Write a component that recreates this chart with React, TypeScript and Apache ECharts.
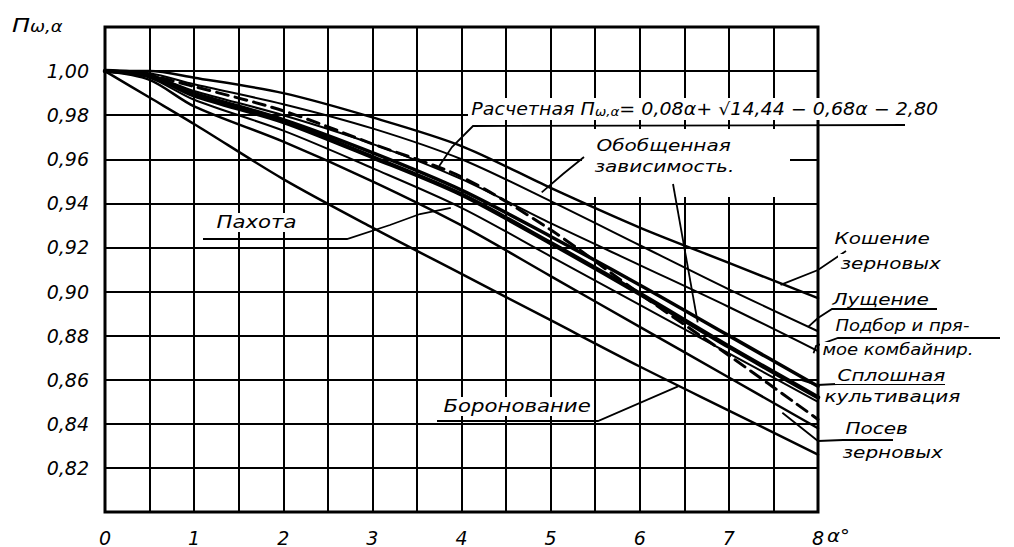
import React, { useEffect, useRef } from 'react';
import * as echarts from 'echarts';

// Angle of slope, degrees
const alpha = [0, 0.5, 1, 2, 3, 4, 5, 6, 7, 8];
// Coefficient П(ω,α)
const koshenie = [1.0, 1.0, 0.997, 0.99, 0.979, 0.966, 0.947, 0.929, 0.913, 0.897];
const lushchenie = [1.0, 0.999, 0.994, 0.985, 0.974, 0.96, 0.941, 0.921, 0.901, 0.882];
const raschetnaya = [1.0, 0.998, 0.993, 0.982, 0.967, 0.952, 0.928, 0.899, 0.871, 0.842];
const podbor = [1.0, 0.998, 0.991, 0.98, 0.967, 0.951, 0.931, 0.912, 0.893, 0.873];
const sploshnaya = [1.0, 0.998, 0.99, 0.978, 0.963, 0.946, 0.925, 0.903, 0.88, 0.857];
const obobshchennaya = [1.0, 0.998, 0.989, 0.977, 0.961, 0.944, 0.922, 0.899, 0.875, 0.852];
const pakhota = [1.0, 0.997, 0.987, 0.973, 0.956, 0.938, 0.916, 0.894, 0.872, 0.85];
const posev = [1.0, 0.996, 0.984, 0.968, 0.95, 0.93, 0.907, 0.884, 0.861, 0.838];
const boronovanie = [1.0, 0.988, 0.976, 0.951, 0.929, 0.908, 0.887, 0.866, 0.846, 0.826];

const xTickLabels = ['0', '1', '2', '3', '4', '5', '6', '7', '8'];

// Points (α, П) on the curves where the leader lines of the labels end
const anchorRaschet = [3.75, 0.957];
const anchorObob1 = [4.9, 0.945];
const anchorObob2 = [6.65, 0.886];
const anchorPakhota = [3.88, 0.938];
const anchorBoron = [6.43, 0.857];
const anchorKosh = [7.58, 0.903];
const anchorLush = [7.89, 0.884];
const anchorPodbor = [7.95, 0.872];
const anchorSplosh = [7.8, 0.86];
const anchorPosev = [7.6, 0.845];

const FONT = 'DejaVu Sans';

export default function App() {
  const ref = useRef<HTMLDivElement>(null);

  useEffect(() => {
    const el = ref.current as HTMLDivElement;
    const chart = echarts.init(el, null, { renderer: 'svg' });

    const mk = (name: string, arr: number[], width: number, type: any = 'solid') => ({
      name,
      type: 'line',
      data: alpha.map((a, i) => [a, arr[i]]),
      showSymbol: false,
      smooth: 0.3,
      silent: true,
      lineStyle: { color: '#000', width, type, cap: 'round' },
      z: 5,
    });

    chart.setOption({
      animation: false,
      backgroundColor: '#fff',
      grid: {
        left: 105,
        right: 196,
        top: 27,
        bottom: 34,
        show: true,
        borderColor: '#000',
        borderWidth: 3,
      },
      xAxis: {
        type: 'value',
        min: 0,
        max: 8,
        interval: 0.5,
        axisLine: { show: false },
        axisTick: { show: false },
        splitLine: { show: true, lineStyle: { color: '#000', width: 2 } },
        axisLabel: {
          margin: 16,
          fontSize: 19,
          fontStyle: 'italic',
          fontFamily: FONT,
          color: '#000',
          formatter: (v: number) => (Number.isInteger(v) ? xTickLabels[v] : ''),
        },
      },
      yAxis: {
        type: 'value',
        min: 0.8,
        max: 1.02,
        interval: 0.02,
        axisLine: { show: false },
        axisTick: { show: false },
        splitLine: { show: true, lineStyle: { color: '#000', width: 2 } },
        axisLabel: {
          margin: 16,
          fontSize: 19,
          fontStyle: 'italic',
          fontFamily: FONT,
          color: '#000',
          formatter: (v: number) =>
            v > 0.815 && v < 1.005 ? v.toFixed(2).replace('.', ',') : '',
        },
      },
      series: [
        mk('Кошение зерновых', koshenie, 2.5),
        mk('Лущение', lushchenie, 2),
        mk('Подбор и прямое комбайнирование', podbor, 2),
        mk('Расчетная', raschetnaya, 3, [12, 7]),
        mk('Сплошная культивация', sploshnaya, 3.5),
        mk('Обобщенная зависимость', obobshchennaya, 4.5),
        mk('Пахота', pakhota, 2),
        mk('Посев зерновых', posev, 2.5),
        mk('Боронование', boronovanie, 2.5),
      ],
    });

    const P = (p: number[]) =>
      chart.convertToPixel({ gridIndex: 0 } as any, p) as unknown as number[];

    const txt = (text: string, x: number, y: number, size = 17, sx = 1.25, bg = true) => ({
      type: 'text',
      x,
      y,
      scaleX: sx,
      z: 100,
      style: {
        text,
        fill: '#000',
        fontSize: size,
        fontStyle: 'italic',
        fontFamily: FONT,
        align: 'left',
        verticalAlign: 'top',
        textAlign: 'left',
        textVerticalAlign: 'top',
        backgroundColor: bg ? '#fff' : undefined,
        padding: bg ? [1, 2, 1, 2] : 0,
      },
    });

    const lead = (pts: number[][]) => ({
      type: 'polyline',
      z: 95,
      shape: { points: pts },
      style: { stroke: '#000', lineWidth: 1.8, fill: null },
    });

    const graphics: any[] = [
      // y-axis title
      {
        type: 'text',
        x: 12,
        y: 14,
        scaleX: 1.2,
        z: 100,
        style: {
          text: 'П{s|ω,α}',
          fill: '#000',
          fontSize: 20,
          fontStyle: 'italic',
          fontFamily: FONT,
          verticalAlign: 'top',
          textVerticalAlign: 'top',
          rich: {
            s: { fontSize: 15, fontStyle: 'italic', fontFamily: FONT, padding: [6, 0, 0, 0] },
          },
        },
      },
      // x-axis unit
      txt('α°', 827, 526, 18, 1.1, false),

      // Расчетная
      {
        type: 'text',
        x: 468,
        y: 98,
        scaleX: 1.12,
        z: 100,
        style: {
          text: 'Расчетная П{s|ω,α}= 0,08α+ √14,44 − 0,68α − 2,80',
          fill: '#000',
          fontSize: 17,
          fontStyle: 'italic',
          fontFamily: FONT,
          verticalAlign: 'top',
          textVerticalAlign: 'top',
          backgroundColor: '#fff',
          padding: [2, 3, 2, 3],
          rich: {
            s: { fontSize: 12, fontStyle: 'italic', fontFamily: FONT, padding: [6, 0, 0, 0] },
          },
        },
      },
      lead([[905, 125], [473, 126], [452, 147], P(anchorRaschet)]),

      // Обобщенная зависимость
      {
        type: 'rect',
        z: 90,
        shape: { x: 582, y: 129, width: 208, height: 68 },
        style: { fill: '#fff' },
      },
      txt('Обобщенная', 594, 136, 16),
      txt('зависимость.', 592, 157, 16),
      lead([[584, 157], [563, 174], P(anchorObob1)]),
      lead([[673, 184], P(anchorObob2)]),

      // Пахота
      txt('Пахота', 214, 213),
      lead([[203, 239], [347, 239], [390, 225], [420, 214], P(anchorPakhota)]),

      // Боронование
      txt('Боронование', 441, 397),
      lead([[437, 421], [598, 421], P(anchorBoron)]),

      // right side labels
      txt('Кошение', 832, 229, 16),
      txt('зерновых', 838, 254, 16),
      lead([[846, 251], [818, 270], P(anchorKosh)]),

      txt('Лущение', 830, 290, 16),
      lead([[937, 309], [832, 309], [818, 318], P(anchorLush)]),

      txt('Подбор и пря-', 833, 318, 15, 1.2),
      txt('мое комбайнир.', 820, 342, 15, 1.2),
      lead([[1000, 338], [838, 338], [816, 346], P(anchorPodbor)]),

      txt('Сплошная', 835, 366, 16),
      txt('культивация', 822, 387, 16),
      lead([[945, 384], [837, 384], [817, 385], P(anchorSplosh)]),

      txt('Посев', 843, 419, 16),
      txt('зерновых', 840, 443, 16),
      lead([[893, 440], [843, 440], [818, 441], P(anchorPosev)]),
    ];

    chart.setOption({ graphic: graphics });

    return () => chart.dispose();
  }, []);

  return (
    <div
      ref={ref}
      style={{ position: 'absolute', left: 0, top: 0, width: 1014, height: 547, background: '#fff' }}
    />
  );
}
